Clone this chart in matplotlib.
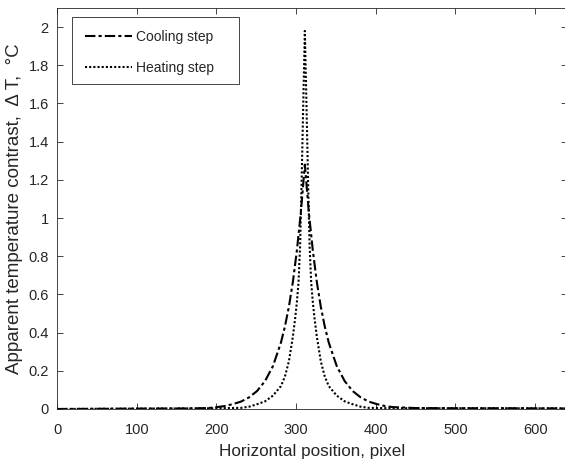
import matplotlib.pyplot as plt
from matplotlib.patches import Rectangle

plt.rcParams['font.family'] = ['Liberation Sans', 'DejaVu Sans']

# Cooling step curve
x_cool = [0, 100, 165, 190, 201, 211, 221, 231, 241, 251, 261, 271, 281, 286,
          291, 296, 301, 306, 311, 316, 321, 326, 331, 336, 341, 351, 361,
          371, 381, 391, 401, 411, 421, 450, 500, 560, 640]
y_cool = [0, 0.002, 0.003, 0.005, 0.010, 0.016, 0.026, 0.039, 0.061, 0.094,
          0.146, 0.225, 0.348, 0.432, 0.536, 0.666, 0.83, 1.03, 1.28, 1.03,
          0.83, 0.666, 0.536, 0.432, 0.348, 0.225, 0.146, 0.094, 0.061,
          0.039, 0.026, 0.016, 0.010, 0.005, 0.004, 0.004, 0.003]

# Heating step curve
x_heat = [0, 100, 165, 200, 231, 241, 251, 261, 271, 281, 286, 291, 296, 299,
          301, 303, 305, 307, 309, 311, 313, 315, 317, 319, 321, 323, 326,
          331, 336, 341, 351, 361, 371, 381, 391, 420, 500, 560, 640]
y_heat = [0, 0.002, 0.003, 0.004, 0.006, 0.012, 0.025, 0.04, 0.07, 0.12,
          0.17, 0.25, 0.38, 0.48, 0.56, 0.66, 0.85, 1.2, 1.6, 1.98, 1.6, 1.2,
          0.85, 0.66, 0.56, 0.48, 0.38, 0.25, 0.17, 0.12, 0.07, 0.04, 0.025,
          0.012, 0.006, 0.004, 0.004, 0.004, 0.003]

xticks = [0, 100, 200, 300, 400, 500, 600]
yticks = [0, 0.2, 0.4, 0.6, 0.8, 1, 1.2, 1.4, 1.6, 1.8, 2]
ytick_labels = ['0', '0.2', '0.4', '0.6', '0.8', '1', '1.2', '1.4', '1.6', '1.8', '2']

txt = '#262626'

fig = plt.figure(figsize=(5.65, 4.61), dpi=100)
ax = fig.add_axes([0.1009, 0.1128, 0.9027, 0.8698])

ax.plot(x_cool, y_cool, color='black', lw=1.5,
        linestyle=(0, (5, 1.5, 1.5, 1.5)), label='Cooling step')
ax.plot(x_heat, y_heat, color='black', lw=1.5,
        linestyle=(0, (1, 1)), label='Heating step')

ax.set_xlim(0, 640)
ax.set_ylim(0, 2.1)
ax.set_xticks(xticks)
ax.set_yticks(yticks)
ax.set_yticklabels(ytick_labels)
ax.tick_params(direction='in', length=4.5, width=0.6, colors=txt,
               labelsize=10.5, top=True, right=True)
ax.tick_params(axis='x', pad=10)
ax.tick_params(axis='y', pad=6)
for s in ax.spines.values():
    s.set_color(txt)
    s.set_linewidth(0.6)

ax.set_xlabel('Horizontal position, pixel', fontsize=12.3, color=txt, labelpad=5)
ax.set_ylabel('Apparent temperature contrast,  Δ T,  °C', fontsize=13.5,
              color=txt, labelpad=4)

# legend frame (MATLAB style, extra room on the right)
ax.add_patch(Rectangle((0.0294, 0.8105), 0.3275, 0.1671, transform=ax.transAxes,
                       facecolor='white', edgecolor=txt, lw=0.6, zorder=4))
leg = ax.legend(loc='upper left', bbox_to_anchor=(0.0549, 0.945),
                borderaxespad=0, borderpad=0, fontsize=10, handlelength=3.4,
                labelspacing=1.2, handletextpad=0.3, frameon=False)
leg.set_zorder(5)
for t in leg.get_texts():
    t.set_color(txt)

fig.savefig('out.png', dpi=100)
